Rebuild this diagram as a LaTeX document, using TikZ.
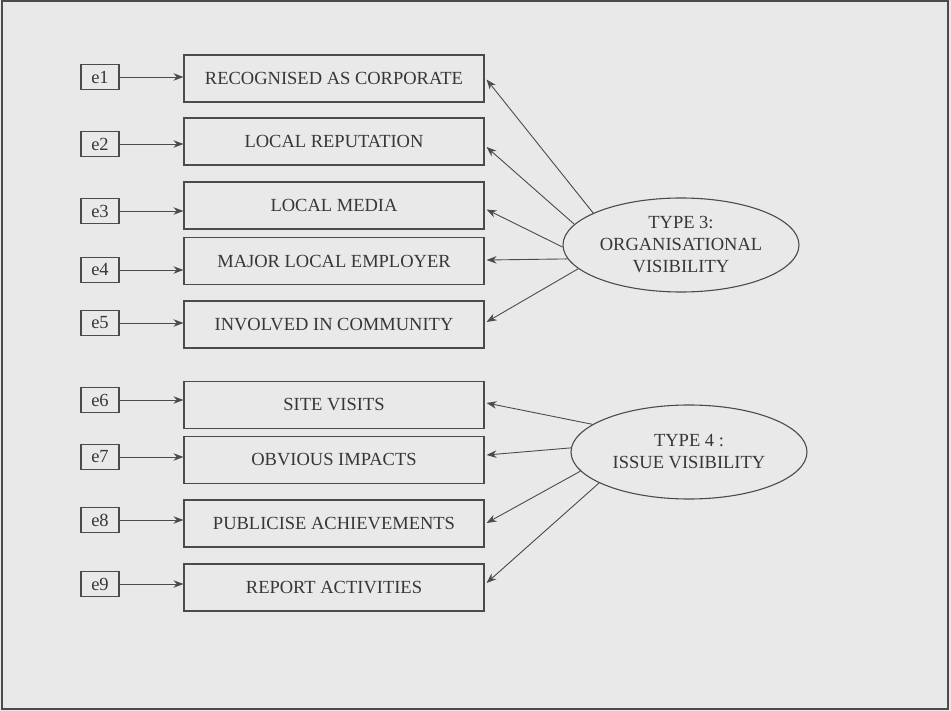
\documentclass[tikz,border=0pt]{standalone}
\usepackage{fontspec}
\setmainfont{Liberation Serif}
\usetikzlibrary{arrows.meta,calc,shapes.geometric}
\definecolor{paper}{RGB}{233,233,233}
\definecolor{ink}{RGB}{75,75,75}
\definecolor{textink}{RGB}{55,55,55}
\tikzset{
  item/.style={draw=ink, line width=1.1pt, minimum width=300pt, minimum height=47pt,
    inner sep=0pt, font=\fontsize{18.5}{22}\selectfont, text=textink},
  err/.style={draw=ink, line width=1.1pt, minimum width=38pt, minimum height=25pt,
    inner sep=0pt, font=\fontsize{18.5}{22}\selectfont, text=textink},
  factor/.style={draw=ink, line width=1.1pt, ellipse, inner sep=0pt,
    minimum width=236pt, minimum height=94pt,
    align=center, font=\fontsize{18.5}{22}\selectfont, text=textink},
  arr/.style={draw=ink, line width=0.9pt, -{Stealth[length=10pt,width=7.5pt]}},
}
\begin{document}
\begin{tikzpicture}[x=1pt,y=-1pt]
\useasboundingbox (0,0) rectangle (951,711);
\fill[paper] (0,0) rectangle (951,711);
\draw[ink, line width=1.2pt] (2,1) rectangle (948,709);

% indicator boxes
\node[item] (b1) at (334,78.5)  {RECOGNISED AS CORPORATE};
\node[item] (b2) at (334,141.5) {LOCAL REPUTATION};
\node[item] (b3) at (334,205.5) {LOCAL MEDIA};
\node[item] (b4) at (334,261)   {MAJOR LOCAL EMPLOYER};
\node[item] (b5) at (334,324.5) {INVOLVED IN COMMUNITY};
\node[item] (b6) at (334,405)   {SITE VISITS};
\node[item] (b7) at (334,460)   {OBVIOUS IMPACTS};
\node[item] (b8) at (334,523.5) {PUBLICISE ACHIEVEMENTS};
\node[item] (b9) at (334,587.5) {REPORT ACTIVITIES};

% error terms
\node[err] (e1) at (100,77)  {e1};
\node[err] (e2) at (100,144) {e2};
\node[err] (e3) at (100,211) {e3};
\node[err] (e4) at (100,270) {e4};
\node[err] (e5) at (100,323) {e5};
\node[err] (e6) at (100,400) {e6};
\node[err] (e7) at (100,457) {e7};
\node[err] (e8) at (100,520) {e8};
\node[err] (e9) at (100,584) {e9};

\foreach \i in {1,...,9}
  \draw[arr] (e\i) -- (e\i -| b\i.west);

% latent factors
\node[factor] (o3) at (681,245) {TYPE 3:\\ORGANISATIONAL\\VISIBILITY};
\node[factor] (o4) at (689,452) {TYPE 4 :\\ISSUE VISIBILITY};

% loadings
\draw[arr] (o3.160.6) -- ($(b1.east)+(2,1)$);
\draw[arr] (o3.169.6) -- ($(b2.east)+(2,5.5)$);
\draw[arr] (o3.181)   -- ($(b3.east)+(2,4)$);
\draw[arr] (o3.187.5) -- ($(b4.east)+(2,-1)$);
\draw[arr] (o3.193)   -- ($(b5.east)+(2,-2.5)$);

\draw[arr] (o4.164.7) -- ($(b6.east)+(2,-2)$);
\draw[arr] (o4.178)   -- ($(b7.east)+(2,-5)$);
\draw[arr] (o4.190.2) -- ($(b8.east)+(2,-0.5)$);
\draw[arr] (o4.199.2) -- ($(b9.east)+(2,-4.5)$);
\end{tikzpicture}
\end{document}
